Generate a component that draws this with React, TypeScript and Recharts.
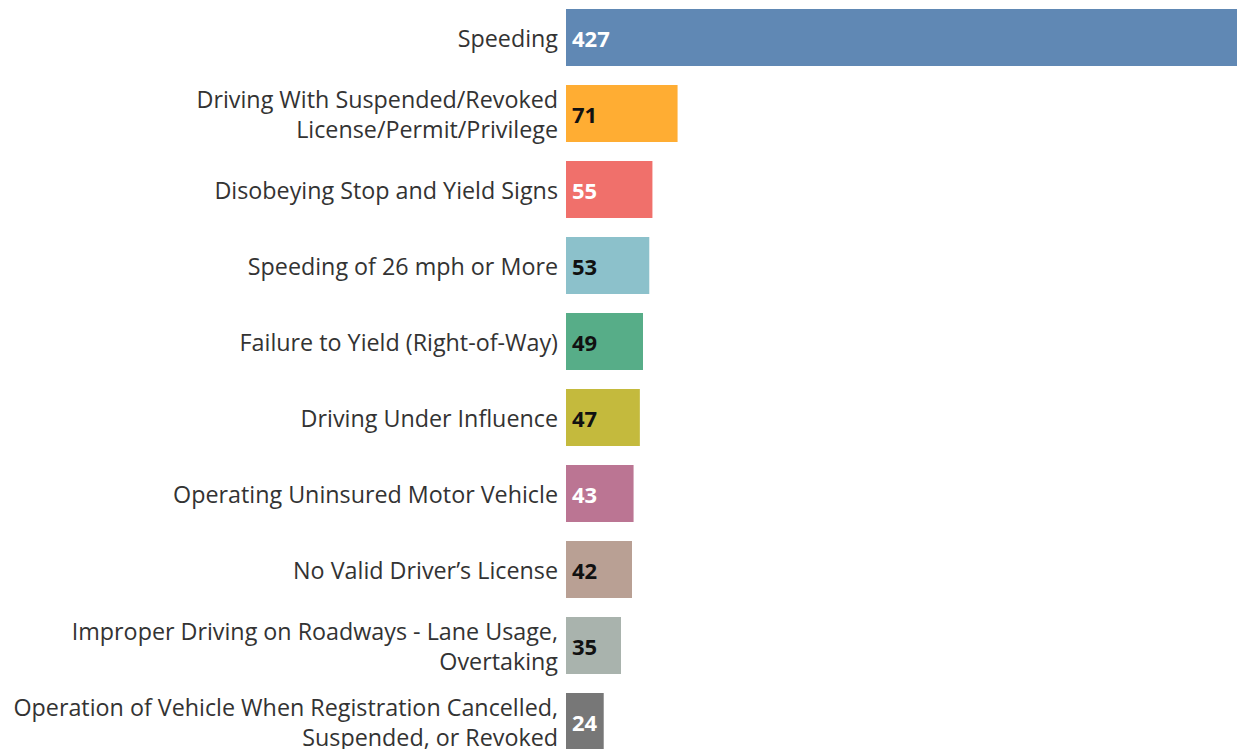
import React from "react";
import { BarChart, Bar, XAxis, YAxis, Cell, LabelList } from "recharts";

const categories = [
  "Speeding",
  "Driving With Suspended/Revoked\nLicense/Permit/Privilege",
  "Disobeying Stop and Yield Signs",
  "Speeding of 26 mph or More",
  "Failure to Yield (Right-of-Way)",
  "Driving Under Influence",
  "Operating Uninsured Motor Vehicle",
  "No Valid Driver\u2019s License",
  "Improper Driving on Roadways - Lane Usage,\nOvertaking",
  "Operation of Vehicle When Registration Cancelled,\nSuspended, or Revoked",
];
const counts = [427, 71, 55, 53, 49, 47, 43, 42, 35, 24];
const colors = [
  "#6088b4", "#ffad33", "#f0706b", "#8cc1cb", "#57ad88",
  "#c4ba3d", "#bb7593", "#b9a094", "#a9b3ad", "#777777",
];
const labelColors = [
  "#ffffff", "#111111", "#ffffff", "#111111", "#111111",
  "#111111", "#ffffff", "#111111", "#111111", "#ffffff",
];

const data = categories.map((c, i) => ({ name: c, value: counts[i], idx: i }));

const FONT = "'Open Sans', sans-serif";

const CategoryTick = (props: any) => {
  const { x, y, payload } = props;
  const lines = String(payload.value).split("\n");
  const lh = 30;
  const start = -((lines.length - 1) * lh) / 2 + 2;
  return (
    <text
      x={x}
      y={y}
      textAnchor="end"
      fill="#333333"
      fontFamily={FONT}
      fontSize={23.3}
    >
      {lines.map((l, i) => (
        <tspan key={i} x={x} y={y + start + i * lh} dy="0.35em">
          {l}
        </tspan>
      ))}
    </text>
  );
};

const ValueLabel = (props: any) => {
  const { x, y, height, value, index } = props;
  return (
    <text
      x={x + 6}
      y={y + height / 2 + 1.5}
      dy="0.35em"
      fill={labelColors[index]}
      fontFamily={FONT}
      fontWeight={700}
      fontSize={22}
    >
      {value}
    </text>
  );
};

export default function App() {
  return (
    <div style={{ position: "absolute", left: 0, top: -1, width: 1238, height: 750, overflow: "hidden", background: "#fff" }}>
      <BarChart
        width={1238}
        height={760}
        data={data}
        layout="vertical"
        margin={{ top: 0, right: 1, bottom: 0, left: 0 }}
      >
        <XAxis type="number" domain={[0, 427]} hide />
        <YAxis
          type="category"
          dataKey="name"
          width={566}
          axisLine={false}
          tickLine={false}
          tickSize={6}
          tickMargin={2}
          interval={0}
          tick={<CategoryTick />}
        />
        <Bar dataKey="value" barSize={57} isAnimationActive={false}>
          {data.map((d, i) => (
            <Cell key={i} fill={colors[i]} />
          ))}
          <LabelList dataKey="value" content={<ValueLabel />} />
        </Bar>
      </BarChart>
    </div>
  );
}
